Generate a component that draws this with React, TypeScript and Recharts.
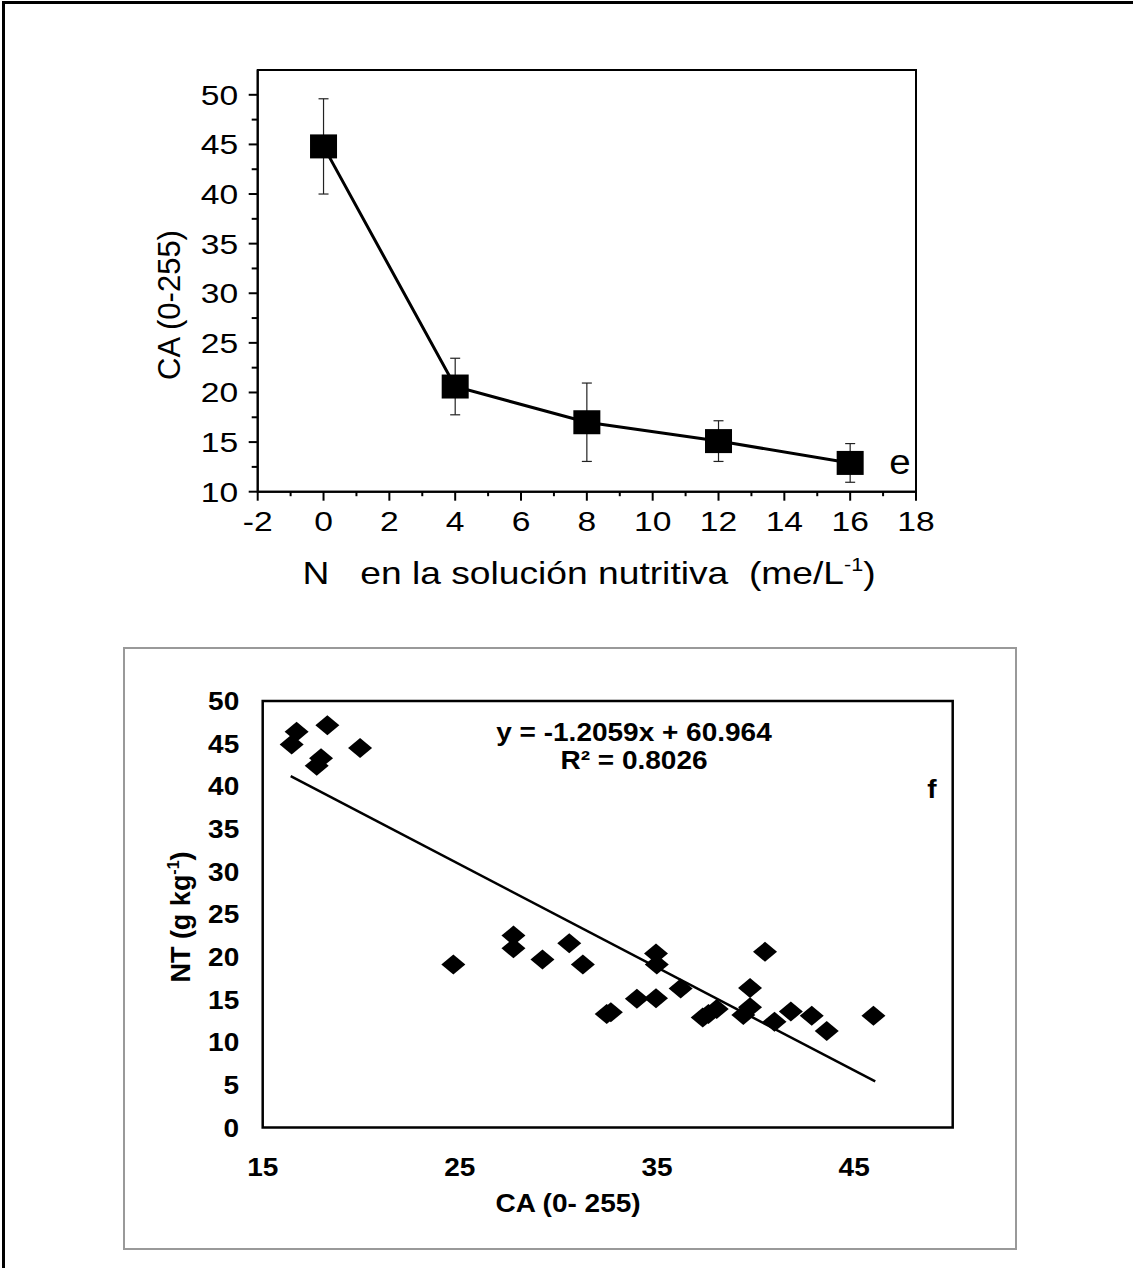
import React from 'react';
import {
  ComposedChart,
  Line,
  Scatter,
  XAxis,
  YAxis,
  ErrorBar,
  ReferenceArea,
} from 'recharts';

// ---------- Top chart data (panel e) ----------
const nLevels = [0, 4, 8, 12, 16];
const caMeans = [44.8, 20.6, 17.0, 15.1, 12.9];
const caErrors = [4.8, 2.85, 3.95, 2.05, 1.95];
const topXTicks = [-2, -1, 0, 1, 2, 3, 4, 5, 6, 7, 8, 9, 10, 11, 12, 13, 14, 15, 16, 17, 18];
const topXLabels = [-2, 0, 2, 4, 6, 8, 10, 12, 14, 16, 18];
const topYTicks = [10, 12.5, 15, 17.5, 20, 22.5, 25, 27.5, 30, 32.5, 35, 37.5, 40, 42.5, 45, 47.5, 50];
const topYLabels = [10, 15, 20, 25, 30, 35, 40, 45, 50];

// ---------- Bottom chart data (panel f) ----------
const caValues = [
  16.47, 16.72, 18.28, 17.74, 17.96, 19.94, 24.67, 27.72, 27.72, 29.19, 30.55,
  31.24, 32.45, 32.66, 33.98, 34.95, 34.99, 34.95, 36.2, 37.32, 37.61, 38.03,
  39.72, 39.38, 39.72, 40.48, 40.96, 41.79, 42.85, 43.61, 45.98,
];
const ntValues = [
  44.9, 46.4, 47.15, 42.4, 43.3, 44.5, 19.1, 22.5, 21.0, 19.7, 21.6,
  19.1, 13.3, 13.5, 15.1, 20.4, 19.1, 15.15, 16.3, 12.9, 13.3, 13.9,
  16.35, 13.2, 14.1, 20.6, 12.4, 13.6, 13.1, 11.3, 13.1,
];
const trendX = [16.42, 46.07];
const trendY = [41.2, 5.4];
const botXTicks = [15, 25, 35, 45];
const botYTicks = [0, 5, 10, 15, 20, 25, 30, 35, 40, 45, 50];

const topData = nLevels.map((x, i) => ({ x, ca: caMeans[i], err: caErrors[i] }));
const scatterData = caValues.map((x, i) => ({ x, y: ntValues[i] }));
const trendData = trendX.map((x, i) => ({ x, t: trendY[i] }));

const FONT = '"Liberation Sans", Arial, Helvetica, sans-serif';

const TopXTick = (props: any) => {
  const { x, y, payload } = props;
  const v = payload.value;
  const major = topXLabels.includes(v);
  return (
    <g>
      <line x1={x} y1={y} x2={x} y2={y + (major ? 9 : 4.5)} stroke="#000" strokeWidth={2} />
      {major && (
        <text
          transform={`translate(${x},${y + 39.5}) scale(1.2,1)`}
          textAnchor="middle"
          fontSize={28}
          fontFamily={FONT}
          fill="#000"
        >
          {v}
        </text>
      )}
    </g>
  );
};

const TopYTick = (props: any) => {
  const { x, y, payload } = props;
  const v = payload.value;
  const major = topYLabels.includes(v);
  return (
    <g>
      <line x1={x} y1={y} x2={x - (major ? 9 : 6)} y2={y} stroke="#000" strokeWidth={2} />
      {major && (
        <text
          transform={`translate(${x - 19.5},${y + 10}) scale(1.2,1)`}
          textAnchor="end"
          fontSize={28}
          fontFamily={FONT}
          fill="#000"
        >
          {v}
        </text>
      )}
    </g>
  );
};

const BotXTick = (props: any) => {
  const { x, y, payload } = props;
  return (
    <text
      transform={`translate(${x},${y + 48.5}) scale(1.12,1)`}
      textAnchor="middle"
      fontSize={25}
      fontWeight="bold"
      fontFamily={FONT}
      fill="#000"
    >
      {payload.value}
    </text>
  );
};

const BotYTick = (props: any) => {
  const { x, y, payload } = props;
  return (
    <text
      transform={`translate(${x - 23.5},${y + 9}) scale(1.12,1)`}
      textAnchor="end"
      fontSize={25}
      fontWeight="bold"
      fontFamily={FONT}
      fill="#000"
    >
      {payload.value}
    </text>
  );
};

const SquareDot = (props: any) => {
  const { cx, cy, index } = props;
  if (cx == null || cy == null) return <g key={`sq-${index}`} />;
  return <rect key={`sq-${index}`} x={cx - 13.5} y={cy - 12} width={27} height={24} fill="#000" />;
};

const Diamond = (props: any) => {
  const { cx, cy } = props;
  if (cx == null || cy == null) return <g />;
  const w = 12;
  const h = 10;
  return (
    <polygon
      points={`${cx},${cy - h} ${cx + w},${cy} ${cx},${cy + h} ${cx - w},${cy}`}
      fill="#000"
    />
  );
};

function TopChart() {
  return (
    <ComposedChart
      width={1133}
      height={620}
      data={topData}
      margin={{ top: 70, right: 217, bottom: 98.3, left: 197.7 }}
    >
      <XAxis
        type="number"
        dataKey="x"
        domain={[-2, 18]}
        ticks={topXTicks}
        interval={0}
        height={30}
        tickLine={false}
        tickSize={0}
        tickMargin={0}
        axisLine={{ stroke: '#000', strokeWidth: 2 }}
        tick={TopXTick}
        allowDataOverflow
      />
      <YAxis
        type="number"
        domain={[10, 52.5]}
        ticks={topYTicks}
        interval={0}
        width={60}
        tickLine={false}
        tickSize={0}
        tickMargin={0}
        axisLine={{ stroke: '#000', strokeWidth: 2 }}
        tick={TopYTick}
        allowDataOverflow
      />
      <ReferenceArea x1={-2} x2={18} y1={10} y2={52.5} fill="none" stroke="#000" strokeWidth={2} />
      <Line
        dataKey="ca"
        stroke="#000"
        strokeWidth={3}
        dot={SquareDot}
        activeDot={false}
        isAnimationActive={false}
      >
        <ErrorBar dataKey="err" width={5} stroke="#222" strokeWidth={1.2} direction="y" />
      </Line>
    </ComposedChart>
  );
}

function BottomChart() {
  return (
    <ComposedChart
      width={1133}
      height={648}
      margin={{ top: 81, right: 180.3, bottom: 100.5, left: 202.7 }}
    >
      <XAxis
        type="number"
        dataKey="x"
        domain={[15, 50]}
        ticks={botXTicks}
        interval={0}
        height={40}
        axisLine={false}
        tickLine={false}
        tickSize={0}
        tickMargin={0}
        tick={BotXTick}
        allowDataOverflow
      />
      <YAxis
        type="number"
        domain={[0, 50]}
        ticks={botYTicks}
        interval={0}
        width={60}
        axisLine={false}
        tickLine={false}
        tickSize={0}
        tickMargin={0}
        tick={BotYTick}
        allowDataOverflow
      />
      <ReferenceArea x1={15} x2={50} y1={0} y2={50} fill="none" stroke="#000" strokeWidth={2.5} />
      <Line
        data={trendData}
        dataKey="t"
        stroke="#000"
        strokeWidth={2.5}
        dot={false}
        activeDot={false}
        isAnimationActive={false}
      />
      <Scatter data={scatterData} dataKey="y" shape={Diamond} isAnimationActive={false} />
    </ComposedChart>
  );
}

export default function App() {
  return (
    <div
      style={{
        position: 'absolute',
        left: 0,
        top: 0,
        width: 1133,
        height: 1268,
        overflow: 'hidden',
        background: '#fff',
      }}
    >
      <div
        style={{
          position: 'absolute',
          left: 2,
          top: 1,
          width: 1200,
          height: 1320,
          border: '3px solid #000',
          boxSizing: 'border-box',
        }}
      />
      <div
        style={{
          position: 'absolute',
          left: 123,
          top: 647,
          width: 894,
          height: 603,
          border: '2px solid #999',
          boxSizing: 'border-box',
        }}
      />
      <div style={{ position: 'absolute', left: 0, top: 0 }}>
        <TopChart />
      </div>
      <div style={{ position: 'absolute', left: 0, top: 620 }}>
        <BottomChart />
      </div>
      <svg
        width={1133}
        height={1268}
        style={{ position: 'absolute', left: 0, top: 0, pointerEvents: 'none' }}
        fontFamily={FONT}
      >
        {/* Top chart titles */}
        <text
          transform="translate(589,584) scale(1.2,1)"
          textAnchor="middle"
          fontSize={31}
          fill="#000"
          style={{ whiteSpace: 'pre' }}
        >
          {'N   en la solución nutritiva  (me/L'}
          <tspan fontSize={18} dy={-13}>-1</tspan>
          <tspan dy={13}>)</tspan>
        </text>
        <text
          transform="translate(180,305) rotate(-90)"
          textAnchor="middle"
          fontSize={31}
          fill="#000"
        >
          CA (0-255)
        </text>
        <text transform="translate(900,474) scale(1.1,1)" textAnchor="middle" fontSize={35} fill="#000">
          e
        </text>
        {/* Bottom chart titles */}
        <text
          transform="translate(634,741) scale(1.12,1)"
          textAnchor="middle"
          fontSize={25}
          fontWeight="bold"
          fill="#000"
        >
          y = -1.2059x + 60.964
        </text>
        <text
          transform="translate(634,769) scale(1.12,1)"
          textAnchor="middle"
          fontSize={25}
          fontWeight="bold"
          fill="#000"
        >
          R² = 0.8026
        </text>
        <text transform="translate(932,798) scale(1.12,1)" textAnchor="middle" fontSize={25} fontWeight="bold" fill="#000">
          f
        </text>
        <text
          transform="translate(568,1212) scale(1.12,1)"
          textAnchor="middle"
          fontSize={25}
          fontWeight="bold"
          fill="#000"
        >
          CA (0- 255)
        </text>
        <text
          transform="translate(190,917) rotate(-90)"
          textAnchor="middle"
          fontSize={27}
          fontWeight="bold"
          fill="#000"
        >
          NT (g kg
          <tspan fontSize={16} dy={-11}>-1</tspan>
          <tspan dy={11}>)</tspan>
        </text>
      </svg>
    </div>
  );
}
